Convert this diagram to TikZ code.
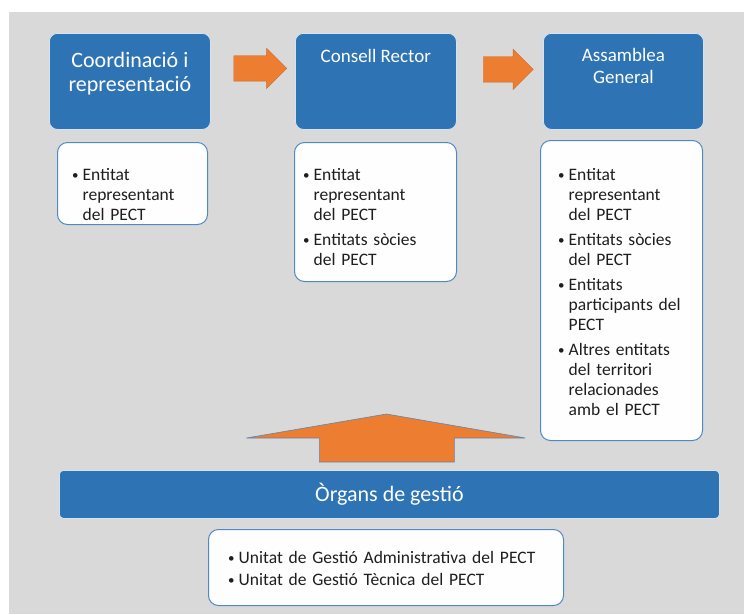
\documentclass[tikz,border=0pt]{standalone}
\usepackage{fontspec}
\setmainfont{Carlito}
\usetikzlibrary{positioning,calc,shapes.arrows}

\definecolor{boxblue}{HTML}{2E74B5}
\definecolor{panelgray}{HTML}{D9D9D9}
\definecolor{arroworange}{HTML}{ED7D31}
\definecolor{lineblue}{HTML}{4E8AC8}
\definecolor{listtext}{HTML}{1E1E1E}

\newcommand{\bitem}[1]{\par\hangindent=10.5pt\hangafter=1\noindent
  \makebox[10.5pt][l]{\raisebox{1.2pt}{\fontsize{13}{13}\selectfont\textbullet}}#1\par}
\newcommand{\bgap}{\vspace{5pt}}

\tikzset{
  headbox/.style={fill=boxblue, draw=white!80!boxblue, line width=0.8pt, rounded corners=8pt, anchor=north west},
  headtext/.style={text=white, align=center, inner sep=0pt},
  listbox/.style={fill=white!97!panelgray, draw=lineblue, line width=1pt, rounded corners=10pt, anchor=north west},
  listitems/.style={text=listtext, align=left, inner sep=0pt, font=\fontsize{17.5}{20}\selectfont},
  sidearrow/.style={single arrow, fill=arroworange, draw=arroworange!85!black, line width=0.4pt,
    minimum height=53pt, minimum width=40pt, single arrow head extend=7.5pt, inner ysep=12.5pt, inner xsep=0pt},
  bigarrow/.style={fill=arroworange, draw=lineblue!70!gray, line width=0.6pt},
}

\begin{document}
\begin{tikzpicture}[x=1pt,y=-1pt]
  \useasboundingbox (0,0) rectangle (744,614);
  \fill[panelgray] (9,12) rectangle (744,614);

  % top row
  \node[headbox, minimum width=161pt, minimum height=96pt] (coordbox) at (49,33) {};
  \node[headbox, minimum width=161pt, minimum height=96pt] (consellbox) at (295,33) {};
  \node[headbox, minimum width=160pt, minimum height=96pt] (assemblybox) at (543,33) {};

  \node[headtext, font=\fontsize{22}{24}\selectfont, below=19pt of coordbox.north] (coordtitle) {Coordinació i\\representació};
  \node[headtext, font=\fontsize{19}{21.7}\selectfont, below=16pt of consellbox.north] (conselltitle) {Consell Rector};
  \node[headtext, font=\fontsize{19}{21.7}\selectfont, below=15pt of assemblybox.north] (assemblytitle) {Assamblea\\General};

  \node[sidearrow] (arrowA) at ($(coordbox.east)!0.5!(consellbox.west)+(1,-13)$) {};
  \node[sidearrow, minimum height=50pt, minimum width=38pt] (arrowB) at ($(consellbox.east)!0.5!(assemblybox.west)+(2,-12)$) {};

  % lists
  \node[listbox, minimum width=150pt, minimum height=82pt] (coordlist) at (57,142) {};
  \node[listitems, text width=130pt, below right=18pt and 15pt of coordlist.north west] (coorditems)
    {\bitem{Entitat\newline representant\newline del PECT}};

  \node[listbox, minimum width=162pt, minimum height=139pt] (conselllist) at (294,142) {};
  \node[listitems, text width=148pt, below right=18pt and 9pt of conselllist.north west] (consellitems)
    {\bitem{Entitat\newline representant\newline del PECT}\bgap\bitem{Entitats sòcies\newline del PECT}};

  \node[listbox, minimum width=162pt, minimum height=300pt] (assemblylist) at (540,140) {};
  \node[listitems, text width=140pt, below right=20pt and 18pt of assemblylist.north west] (assemblyitems)
    {\bitem{Entitat\newline representant\newline del PECT}\bgap\bitem{Entitats sòcies\newline del PECT}\bgap
     \bitem{Entitats\newline participants del\newline PECT}\bgap\bitem{Altres entitats\newline del territori\newline relacionades\newline amb el PECT}};

  % bottom
  \node[headbox, rounded corners=4pt, minimum width=660pt, minimum height=48pt,
    font=\fontsize{22}{24}\selectfont, text=white] (organsbar) at (59,470) {Òrgans de gestió};

  \coordinate (arrowfoot) at ($(organsbar.north)+(-3,-8)$);
  \draw[bigarrow] (arrowfoot) ++(-67,0) -- ++(0,-24) -- ++(-73,0) -- ++(140,-24) -- ++(139,24) -- ++(-71,0) -- ++(0,24) -- cycle;

  \node[listbox, minimum width=355pt, minimum height=76pt] (unitatlist) at (208,529) {};
  \node[listitems, text width=330pt, below right=14pt and 20pt of unitatlist.north west] (unitatitems)
    {\bitem{Unitat de Gestió Administrativa del PECT}\vspace{2pt}\bitem{Unitat de Gestió Tècnica del PECT}};
\end{tikzpicture}
\end{document}
